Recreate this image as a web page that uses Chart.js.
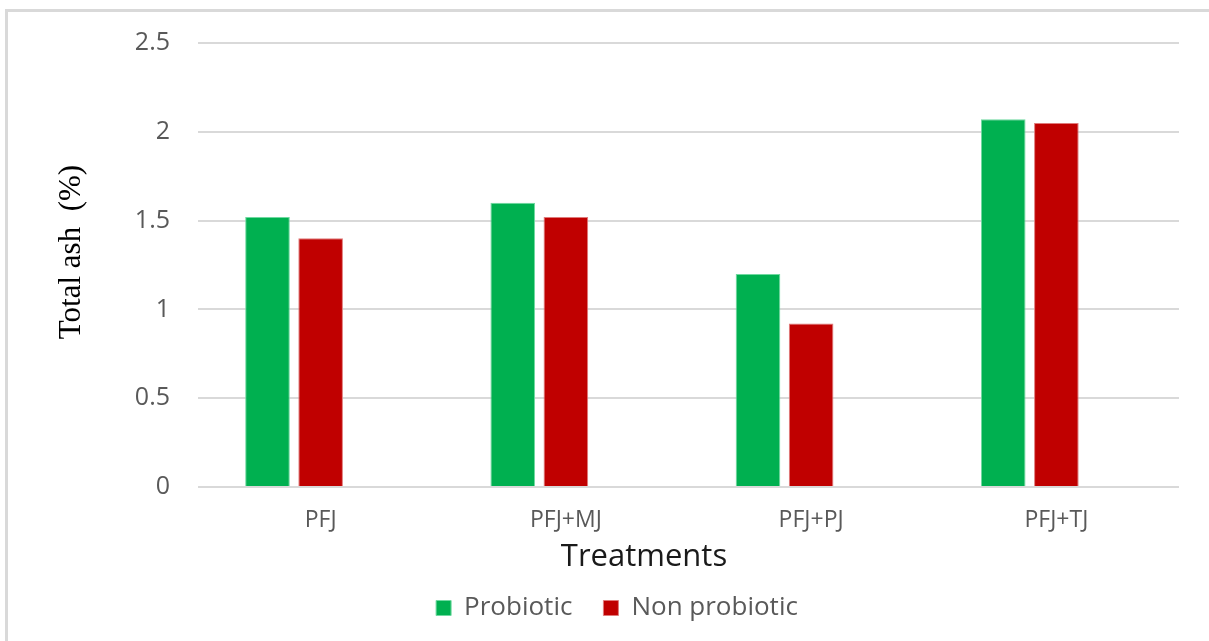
<!DOCTYPE html>
<html lang="en">

<head>
    <meta charset="UTF-8">
    <meta name="viewport" content="width=device-width, initial-scale=1.0">
    <title>Total ash - Treatments</title>
    <script src="https://cdn.jsdelivr.net/npm/chart.js"></script>
    <style>
        html, body {
            margin: 0;
            padding: 0;
            background: #ffffff;
            overflow: hidden;
        }

        .moldura {
            position: absolute;
            left: 5px;
            top: 9px;
            width: 1300px;
            height: 700px;
            border-left: 3px solid #d9d9d9;
            border-top: 3px solid #d9d9d9;
        }

        .grafico {
            position: absolute;
            left: 0;
            top: 0;
            width: 1209px;
            height: 641px;
        }
    </style>
</head>

<body>

    <div class="moldura"></div>

    <div class="grafico">
        <canvas id="graficoCinzas" width="1209" height="641"></canvas>
    </div>

</body>

<script>

    // data
    const tratamentos = ['PFJ', 'PFJ+MJ', 'PFJ+PJ', 'PFJ+TJ'];
    const probiotico = [1.52, 1.60, 1.20, 2.07];
    const naoProbiotico = [1.40, 1.52, 0.92, 2.05];
    const vazio = [null, null, null, null]; // third empty slot, keeps the bars left of the label like in Excel

    const tituloX = 'Treatments';
    const tituloY = 'Total ash  (%)';

    const fonte = "'Open Sans', 'Noto Sans', sans-serif";
    const cinzaTexto = '#595959';

    // draws the two axis titles where the original has them
    const titulosEixos = {
        id: 'titulosEixos',
        afterDraw(chart) {
            const ctx = chart.ctx;
            ctx.save();
            ctx.textAlign = 'center';
            ctx.textBaseline = 'middle';

            ctx.font = "31px " + fonte;
            ctx.fillStyle = '#1a1a1a';
            ctx.fillText(tituloX, 644, 557);

            ctx.translate(72, 252);
            ctx.rotate(-Math.PI / 2);
            ctx.font = "31px 'Liberation Serif', 'DejaVu Serif', serif";
            ctx.fillStyle = '#000000';
            ctx.fillText(tituloY, 0, 0);
            ctx.restore();
        }
    };

    const dados = {
        labels: tratamentos,
        datasets: [
            {
                label: 'Probiotic',
                data: probiotico,
                backgroundColor: '#00b050',
                borderColor: '#6fd9a0',
                borderWidth: 1
            },
            {
                label: 'Non probiotic',
                data: naoProbiotico,
                backgroundColor: '#c00000',
                borderColor: '#e07a7a',
                borderWidth: 1
            },
            {
                label: '',
                data: vazio,
                backgroundColor: 'rgba(0,0,0,0)'
            }
        ]
    };

    const config = {
        type: 'bar',
        data: dados,
        plugins: [titulosEixos],
        options: {
            responsive: false,
            animation: false,
            categoryPercentage: 0.65,
            barPercentage: 0.84,
            layout: {
                // left is bigger than right so the legend sits a bit right of the middle
                padding: { left: 55, right: 30, top: 42, bottom: 10 }
            },
            plugins: {
                tooltip: { enabled: false },
                legend: {
                    position: 'bottom',
                    labels: {
                        filter: (item) => item.text !== '',
                        boxWidth: 15,
                        boxHeight: 15,
                        padding: 31,
                        color: cinzaTexto,
                        font: { family: fonte, size: 26 }
                    }
                }
            },
            scales: {
                x: {
                    grid: { display: false, drawTicks: false },
                    border: { display: false },
                    ticks: {
                        color: cinzaTexto,
                        padding: 20,
                        font: { family: fonte, size: 23 }
                    },
                    afterFit: (escala) => { escala.height = 77; }
                },
                y: {
                    min: 0,
                    max: 2.5,
                    grid: { color: '#d9d9d9', lineWidth: 2, drawTicks: false },
                    border: { display: false },
                    ticks: {
                        stepSize: 0.5,
                        color: cinzaTexto,
                        padding: 28,
                        font: { family: fonte, size: 25 },
                        callback: (v) => String(v)
                    },
                    afterFit: (escala) => { escala.width = 143; }
                }
            }
        }
    };

    let meuGrafico = new Chart(document.getElementById('graficoCinzas'), config);

</script>

</html>
